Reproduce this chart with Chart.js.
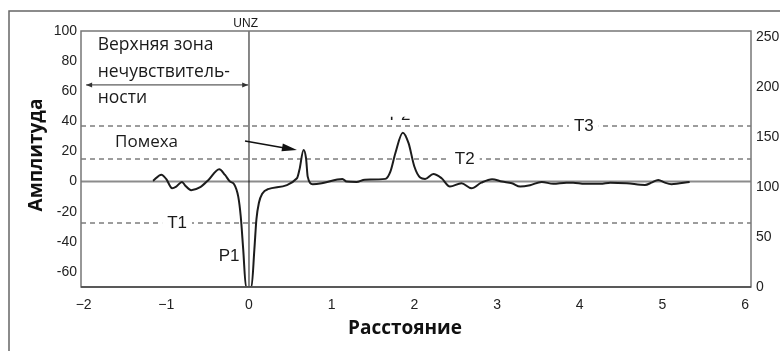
<!DOCTYPE html>
<html lang="ru">
<head>
<meta charset="UTF-8">
<title>Амплитуда / Расстояние</title>
<script src="https://cdn.jsdelivr.net/npm/chart.js"></script>
<style>
    html, body { margin: 0; padding: 0; background: #ffffff; }
    #wrap { width: 780px; height: 351px; }
</style>
</head>
<body>
<div id="wrap"><canvas id="chart" width="780" height="351"></canvas></div>
<script>
// signal trace
const distance = [-1.16, -1.06, -1.00, -0.93, -0.88, -0.81, -0.77, -0.70, -0.59, -0.49, -0.36, -0.29, -0.23, -0.18, -0.13, -0.10, -0.07, -0.036,
    0.03, 0.065, 0.09, 0.12, 0.16, 0.23, 0.58, 0.61, 0.66, 0.69, 0.71, 0.77, 0.88, 1.13, 1.18, 1.30, 1.40, 1.65, 1.71, 1.77, 1.86, 1.93,
    2.00, 2.07, 2.13, 2.23, 2.33, 2.43, 2.57, 2.69, 2.81, 2.94, 3.06, 3.18, 3.28, 3.40, 3.54, 3.68, 3.84, 3.92, 4.06, 4.25, 4.37, 4.57,
    4.79, 4.87, 4.95, 5.03, 5.11, 5.33];
const amplitude = [0.5, 4.6, 1.6, -4.4, -3.3, -0.2, -2.7, -5.7, -3.7, 1.1, 8.2, 4.4, 0, -1.7, -10, -23, -45, -70,
    -70, -45, -25, -14, -8, -5, 2.2, 7.8, 21, 15.5, 3.3, -1.7, -1.1, 1.8, 0, -0.3, 1.3, 1.8, 6.6, 18.8, 32.5, 25.5,
    10, 2.7, 1.8, 5.1, 2.2, -3.3, -1.1, -4.4, -0.7, 1.6, 0, -1.1, -3.3, -2.4, -0.2, -1.5, -0.7, -0.7, -1.5, -1.5, -0.7, -1.1,
    -2.2, -0.7, 1.1, -0.7, -1.7, -0.2];

// axes
const xTicks = [-2, -1, 0, 1, 2, 3, 4, 5, 6];
const leftTicks = [-60, -40, -20, 0, 20, 40, 60, 80, 100];
const rightTicks = [0, 50, 100, 150, 200, 250];

// thresholds (right axis, 0..255 scale)
const thresholdNames = ['T1', 'T2', 'T3'];
const thresholdValues = [64, 128, 161];
const thresholdLabelX = [-0.87, 2.61, 4.05];

const X_MIN = -2.032, X_MAX = 6.072;

const tickFont = { family: '"Liberation Sans", Arial, sans-serif', size: 14 };

const curve = distance.map((d, i) => ({ x: d, y: amplitude[i] }));

const datasets = [
    {
        data: curve,
        borderColor: '#1c1c1c',
        borderWidth: 2,
        pointRadius: 0,
        cubicInterpolationMode: 'monotone',
        yAxisID: 'y'
    },
    {
        data: [{ x: 0, y: -70 }, { x: 0, y: 100 }],
        borderColor: '#111',
        borderWidth: 1,
        pointRadius: 0,
        yAxisID: 'y'
    },
    {
        data: [{ x: X_MIN, y: 0 }, { x: X_MAX, y: 0 }],
        borderColor: '#8c8c8c',
        borderWidth: 2,
        pointRadius: 0,
        yAxisID: 'y'
    }
];
thresholdValues.forEach(v => {
    datasets.push({
        data: [{ x: X_MIN, y: v }, { x: X_MAX, y: v }],
        borderColor: '#3a3a3a',
        borderWidth: 1,
        borderDash: [5, 4],
        pointRadius: 0,
        yAxisID: 'y1'
    });
});

function arrowHead(ctx, x1, y1, x2, y2, len, half) {
    const a = Math.atan2(y2 - y1, x2 - x1);
    ctx.beginPath();
    ctx.moveTo(x2, y2);
    ctx.lineTo(x2 - len * Math.cos(a) + half * Math.sin(a), y2 - len * Math.sin(a) - half * Math.cos(a));
    ctx.lineTo(x2 - len * Math.cos(a) - half * Math.sin(a), y2 - len * Math.sin(a) + half * Math.cos(a));
    ctx.closePath();
    ctx.fill();
}

const overlay = {
    id: 'overlay',
    beforeDraw(chart) {
        const ctx = chart.ctx;
        ctx.save();
        ctx.fillStyle = '#fff';
        ctx.fillRect(0, 0, chart.width, chart.height);
        ctx.restore();
    },
    afterDatasetsDraw(chart) {
        const ctx = chart.ctx;
        const sx = chart.scales.x, sy = chart.scales.y, sr = chart.scales.y1;
        const area = chart.chartArea;
        ctx.save();

        // frames
        ctx.strokeStyle = '#666';
        ctx.lineWidth = 1.5;
        ctx.beginPath();
        ctx.moveTo(9, chart.height);
        ctx.lineTo(9, 11);
        ctx.lineTo(chart.width, 11);
        ctx.stroke();
        ctx.strokeStyle = '#777';
        ctx.strokeRect(area.left, area.top, area.right - area.left, area.bottom - area.top);
        ctx.strokeStyle = '#444';
        ctx.beginPath();
        ctx.moveTo(area.left, area.bottom);
        ctx.lineTo(area.right, area.bottom);
        ctx.stroke();

        // threshold labels
        ctx.font = '17px "Liberation Sans", Arial, sans-serif';
        ctx.textAlign = 'center';
        ctx.textBaseline = 'middle';
        thresholdNames.forEach((n, i) => {
            const px = sx.getPixelForValue(thresholdLabelX[i]);
            const py = sr.getPixelForValue(thresholdValues[i]);
            const w = ctx.measureText(n).width;
            ctx.fillStyle = '#fff';
            ctx.fillRect(px - w / 2 - 5, py - 3, w + 10, 6);
            ctx.fillStyle = '#1a1a1a';
            ctx.fillText(n, px, py);
        });
        ctx.fillText('P1', sx.getPixelForValue(-0.24), sy.getPixelForValue(-49.5));

        // P2, mostly hidden
        ctx.save();
        const clipTop = sy.getPixelForValue(43);
        ctx.beginPath();
        ctx.rect(area.left, clipTop, area.right - area.left, 10);
        ctx.clip();
        ctx.textAlign = 'left';
        ctx.textBaseline = 'alphabetic';
        ctx.fillText('P2', sx.getPixelForValue(1.70), sy.getPixelForValue(40.9));
        ctx.restore();

        // UNZ
        ctx.font = '12px "Liberation Sans", Arial, sans-serif';
        ctx.textAlign = 'center';
        ctx.textBaseline = 'middle';
        ctx.fillText('UNZ', sx.getPixelForValue(-0.04), sy.getPixelForValue(105));

        // zone text
        ctx.font = '17.5px "Open Sans", sans-serif';
        ctx.textAlign = 'left';
        ctx.textBaseline = 'alphabetic';
        const zx = sx.getPixelForValue(-1.83);
        ctx.fillText('Верхняя зона', zx, sy.getPixelForValue(87.4));
        ctx.fillText('нечувствитель-', zx, sy.getPixelForValue(69.6));
        ctx.fillText('ности', zx, sy.getPixelForValue(52.4));
        ctx.font = '17px "Open Sans", sans-serif';
        ctx.fillText('Помеха', sx.getPixelForValue(-1.62), sy.getPixelForValue(23.2));

        // double arrow of the zone
        ctx.strokeStyle = '#333';
        ctx.fillStyle = '#333';
        ctx.lineWidth = 1;
        const ay = sy.getPixelForValue(64.2);
        const ax1 = sx.getPixelForValue(-1.97), ax2 = sx.getPixelForValue(-0.01);
        ctx.beginPath();
        ctx.moveTo(ax1, ay);
        ctx.lineTo(ax2, ay);
        ctx.stroke();
        arrowHead(ctx, ax2, ay, ax1, ay, 6, 2.5);
        arrowHead(ctx, ax1, ay, ax2, ay, 6, 2.5);

        // noise arrow
        ctx.strokeStyle = '#111';
        ctx.fillStyle = '#111';
        ctx.lineWidth = 1.5;
        const bx1 = sx.getPixelForValue(-0.048), by1 = sy.getPixelForValue(27);
        const bx2 = sx.getPixelForValue(0.58), by2 = sy.getPixelForValue(21);
        ctx.beginPath();
        ctx.moveTo(bx1, by1);
        ctx.lineTo(bx2 - 8, by2 - 1.2);
        ctx.stroke();
        arrowHead(ctx, bx1, by1, bx2, by2, 15, 4);

        // axis titles
        ctx.fillStyle = '#111';
        ctx.font = 'bold 19px "Open Sans", sans-serif';
        ctx.textAlign = 'center';
        ctx.textBaseline = 'middle';
        ctx.fillText('Расстояние', 405, 329);
        ctx.translate(37, 155);
        ctx.rotate(-Math.PI / 2);
        ctx.fillText('Амплитуда', 0, 0);
        ctx.restore();
    }
};

new Chart(document.getElementById('chart'), {
    type: 'line',
    data: { datasets },
    options: {
        responsive: false,
        animation: false,
        devicePixelRatio: 1,
        layout: { padding: { top: 31, left: 0, right: 0, bottom: 0 } },
        plugins: { legend: { display: false }, tooltip: { enabled: false } },
        scales: {
            x: {
                type: 'linear',
                min: X_MIN,
                max: X_MAX,
                afterBuildTicks: s => { s.ticks = xTicks.map(v => ({ value: v })); },
                afterFit: s => { s.height = 64; },
                grid: { display: false, drawTicks: false },
                border: { display: false },
                ticks: {
                    font: tickFont,
                    color: '#222',
                    padding: 10,
                    maxRotation: 0,
                    autoSkip: false,
                    callback: v => v < 0 ? '\u2212' + Math.abs(v) : String(v)
                }
            },
            y: {
                position: 'left',
                min: -70,
                max: 100,
                afterBuildTicks: s => { s.ticks = leftTicks.map(v => ({ value: v })); },
                afterFit: s => { s.width = 81; },
                grid: { display: false, drawTicks: false },
                border: { display: false },
                ticks: { font: tickFont, color: '#222', padding: 4, callback: v => String(v) }
            },
            y1: {
                position: 'right',
                min: 0,
                max: 256,
                afterBuildTicks: s => { s.ticks = rightTicks.map(v => ({ value: v })); },
                afterFit: s => { s.width = 29; },
                grid: { display: false, drawTicks: false },
                border: { display: false },
                ticks: { font: tickFont, color: '#222', padding: 5 }
            }
        }
    },
    plugins: [overlay]
});
</script>
</body>
</html>
